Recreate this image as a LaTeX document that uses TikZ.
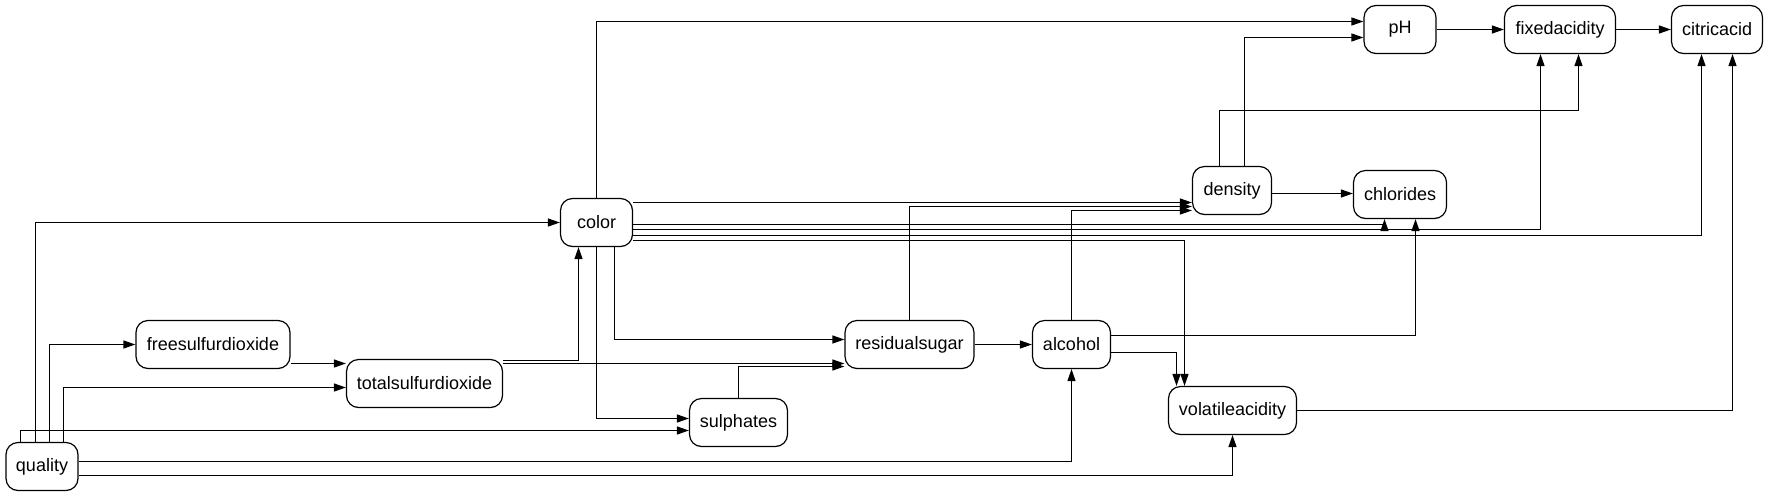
\documentclass[tikz,border=0pt]{standalone}
\usepackage{fontspec}
\setmainfont{Liberation Sans}
\usetikzlibrary{arrows.meta}
\begin{document}
\begin{tikzpicture}[x=1pt,y=-1pt,
  vnode/.style={draw,line width=1.2pt,rounded corners=12pt,minimum height=48pt,inner sep=0pt,font=\fontsize{18}{20}\selectfont},
  arr/.style={-{Triangle[length=12pt,width=8pt]},line width=1.2pt}]
\useasboundingbox (0,0) rectangle (1768,496);
% nodes
\node[vnode,minimum width=72pt]  (quality) at (42,466.5) {quality};
\node[vnode,minimum width=154pt] (free)    at (213,344.5) {freesulfurdioxide};
\node[vnode,minimum width=156pt] (total)   at (424.5,383.5) {totalsulfurdioxide};
\node[vnode,minimum width=72pt]  (color)   at (596.5,222.5) {color};
\node[vnode,minimum width=129pt] (resid)   at (909.5,344.5) {residualsugar};
\node[vnode,minimum width=78pt]  (alcohol) at (1071.5,344.5) {alcohol};
\node[vnode,minimum width=98pt]  (sulph)   at (738.5,422.5) {sulphates};
\node[vnode,minimum width=128pt] (volat)   at (1232.5,410.5) {volatileacidity};
\node[vnode,minimum width=79pt]  (density) at (1232,190.5) {density};
\node[vnode,minimum width=93pt]  (chlor)   at (1400,194.5) {chlorides};
\node[vnode,minimum width=72pt]  (pH)      at (1400,29.5) {pH};
\node[vnode,minimum width=111pt] (fixed)   at (1560,29.5) {fixedacidity};
\node[vnode,minimum width=91pt]  (citric)  at (1717,29.5) {citricacid};
% quality edges
\draw[arr] (quality.north -| 35.5,0) |- (color.west |- 0,222.5);
\draw[arr] (quality.north -| 49.5,0) |- (free.west);
\draw[arr] (quality.north -| 63.5,0) |- (total.west |- 0,387.5);
\draw[arr] (quality.north -| 20.5,0) |- (sulph.west |- 0,430.5);
\draw[arr] (quality.east |- 0,461.5) -| (alcohol.south);
\draw[arr] (quality.east |- 0,475.5) -| (volat.south);
% sulfur
\draw[arr] (free.east |- 0,363.5) -- (total.west |- 0,363.5);
\draw[arr] (total.east |- 0,360.5) -| (color.south -| 578.5,0);
\draw[arr] (total.east |- 0,363.5) -- (resid.west |- 0,363.5);
\draw[arr] (sulph.north) |- (resid.west |- 0,366.5);
% color edges
\draw[arr] (color.south -| 614.5,0) |- (resid.west |- 0,339.5);
\draw[arr] (color.south) |- (sulph.west |- 0,418.5);
\draw[arr] (color.north) |- (pH.west |- 0,21.5);
\draw[arr] (color.east |- 0,202.5) -- (density.west |- 0,202.5);
\draw[arr] (color.east |- 0,224.5) -| (chlor.south -| 1384.5,0);
\draw[arr] (color.east |- 0,229.5) -| (fixed.south -| 1540.5,0);
\draw[arr] (color.east |- 0,235.5) -| (citric.south -| 1701.5,0);
\draw[arr] (color.east |- 0,240.5) -| (volat.north -| 1184.5,0);
% residual / alcohol
\draw[arr] (resid.north) |- (density.west |- 0,206.5);
\draw[arr] (alcohol.north) |- (density.west |- 0,210.5);
\draw[arr] (resid.east) -- (alcohol.west);
\draw[arr] (alcohol.east |- 0,335.5) -| (chlor.south -| 1415.5,0);
\draw[arr] (alcohol.east |- 0,352.5) -| (volat.north -| 1176.5,0);
% density
\draw[arr] (density.east |- 0,193.5) -- (chlor.west |- 0,193.5);
\draw[arr] (density.north -| 1244.5,0) |- (pH.west |- 0,37.5);
\draw[arr] (density.north -| 1219.5,0) |- (1578.5,110.5) -- (fixed.south -| 1578.5,0);
% top row
\draw[arr] (pH.east) -- (fixed.west);
\draw[arr] (fixed.east) -- (citric.west);
\draw[arr] (volat.east |- 0,410.5) -| (citric.south -| 1732.5,0);
\end{tikzpicture}
\end{document}
